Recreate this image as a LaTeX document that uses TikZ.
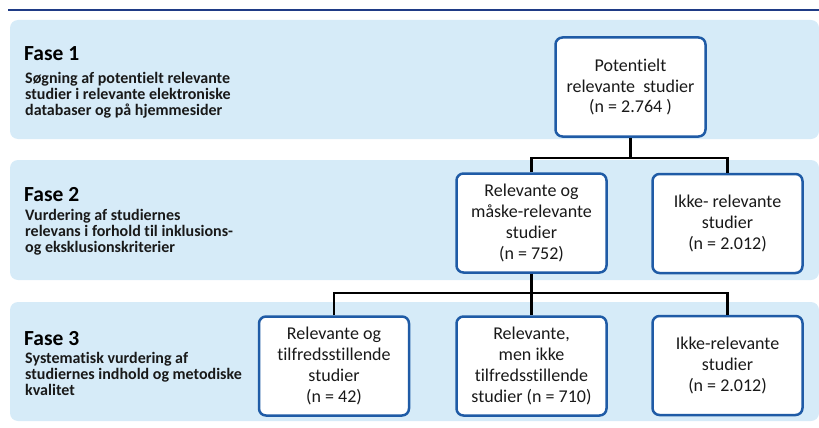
\documentclass[tikz,border=0pt]{standalone}
\usepackage{fontspec}
\setmainfont{Carlito}[Ligatures=NoCommon]
\usetikzlibrary{positioning}

\definecolor{bandblue}{HTML}{D6EBF8}
\definecolor{boxblue}{HTML}{1F5BA6}
\definecolor{ruleblue}{HTML}{1F3B86}

\tikzset{
  band/.style={fill=bandblue, rounded corners=8pt},
  studybox/.style={draw=boxblue, line width=2.5pt, fill=white, rounded corners=7pt,
    minimum width=150pt, minimum height=99pt, inner sep=0pt, align=center,
    text=black!90, font=\fontsize{18}{20.7}\selectfont},
  fasehead/.style={anchor=base west, inner sep=0pt, font=\fontsize{21.5}{24}\selectfont\bfseries},
  fasetext/.style={anchor=north west, inner sep=0pt, align=left, text=black!90,
    font=\fontsize{16}{16}\selectfont\bfseries},
  branch/.style={line width=2.5pt},
}

\begin{document}
\begin{tikzpicture}[x=1pt,y=-1pt]
    \useasboundingbox (0,0) rectangle (819,428);
    \fill[band] (10,20) rectangle (819,139);
    \fill[band] (10,160) rectangle (819,280);
    \fill[band] (10,302) rectangle (819,421);
    \draw[ruleblue, line width=2pt] (8,10) -- (819,10);

    \node[fasehead] (fase1) at (24,60) {Fase 1};
    \node[fasetext] (fase1text) at (25,72) {Søgning af potentielt relevante\\studier i relevante elektroniske\\databaser og på hjemmesider};
    \node[fasehead] (fase2) at (24,201) {Fase 2};
    \node[fasetext] (fase2text) at (25,209) {Vurdering af studiernes\\relevans i forhold til inklusions-\\og eksklusionskriterier};
    \node[fasehead] (fase3) at (24,345) {Fase 3};
    \node[fasetext] (fase3text) at (25,352) {Systematisk vurdering af\\studiernes indhold og metodiske\\kvalitet};

    \node[studybox] (potential) at (630.5,87) {Potentielt\\relevante \ studier\\(n = 2.764 )};
    \node[studybox] (maybe) at (531.5,223) {Relevante og\\måske-relevante\\studier\\(n = 752)};
    \node[studybox] (irrelevant) at (727.5,223.5) {Ikke- relevante\\studier\\(n = 2.012)};
    \node[studybox] (accepted) at (334,366) {Relevante og\\tilfredsstillende\\studier\\(n = 42)};
    \node[studybox] (rejected) at (531.5,366) {Relevante,\\men ikke\\tilfredsstillende\\studier (n = 710)};
    \node[studybox] (excluded) at (727.5,365.5) {Ikke-relevante\\studier\\(n = 2.012)};

    \coordinate (fork1) at (630.5,158);
    \coordinate (fork2) at (531.5,293);

    \draw[branch] (potential) -- (fork1);
    \draw[branch] (maybe.north) |- (fork1) -| (irrelevant.north);
    \draw[branch] (maybe) -- (rejected);
    \draw[branch] (accepted.north) |- (fork2) -| (excluded.north);
  \end{tikzpicture}
\end{document}
